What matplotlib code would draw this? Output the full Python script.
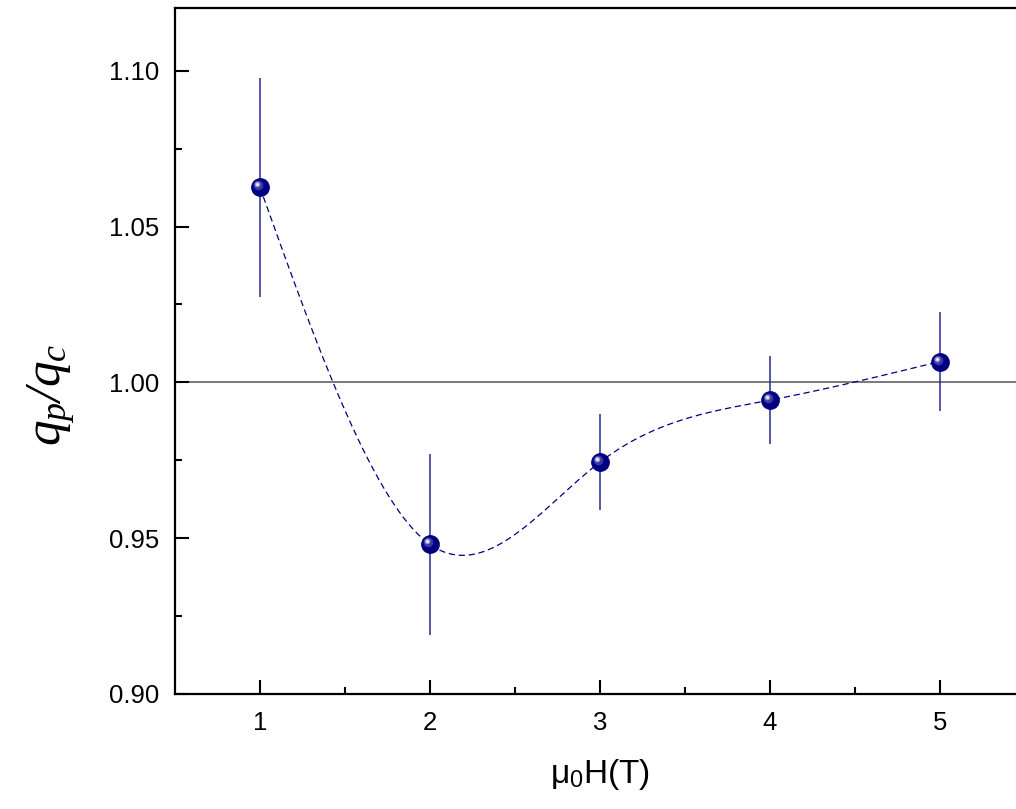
import numpy as np
import matplotlib
matplotlib.use("Agg")
import matplotlib.pyplot as plt
from matplotlib.transforms import offset_copy

# ----------------------------------------------------------------------
# data
# ----------------------------------------------------------------------
field = [1, 2, 3, 4, 5]                                   # mu0 H (T)
ratio = [1.0626, 0.9480, 0.9744, 0.9943, 1.0067]          # q_p / q_c
ratio_err = [0.0352, 0.0290, 0.0154, 0.0141, 0.0160]
x_ticks = [1, 2, 3, 4, 5]
y_ticks = [0.90, 0.95, 1.00, 1.05, 1.10]

plt.rcParams["font.family"] = ["Liberation Sans", "DejaVu Sans"]
plt.rcParams["mathtext.fontset"] = "custom"
plt.rcParams["mathtext.it"] = "Liberation Serif:italic"
plt.rcParams["mathtext.rm"] = "Liberation Serif"

NAVY = "#000080"


def natural_spline(x, y, n=400):
    """Natural cubic spline through the points (like Origin's spline connect)."""
    x = np.asarray(x, float)
    y = np.asarray(y, float)
    h = np.diff(x)
    m = len(x)
    A = np.zeros((m, m))
    b = np.zeros(m)
    A[0, 0] = A[-1, -1] = 1.0
    for i in range(1, m - 1):
        A[i, i - 1] = h[i - 1]
        A[i, i] = 2 * (h[i - 1] + h[i])
        A[i, i + 1] = h[i]
        b[i] = 6 * ((y[i + 1] - y[i]) / h[i] - (y[i] - y[i - 1]) / h[i - 1])
    M = np.linalg.solve(A, b)
    xs = np.linspace(x[0], x[-1], n)
    idx = np.clip(np.searchsorted(x, xs) - 1, 0, m - 2)
    x0, x1 = x[idx], x[idx + 1]
    hh = x1 - x0
    t0 = x1 - xs
    t1 = xs - x0
    ys = (M[idx] * t0**3 / (6 * hh) + M[idx + 1] * t1**3 / (6 * hh)
          + (y[idx] / hh - M[idx] * hh / 6) * t0
          + (y[idx + 1] / hh - M[idx + 1] * hh / 6) * t1)
    return xs, ys


fig = plt.figure(figsize=(10.16, 8.09), dpi=100)
ax = fig.add_axes([0.1722, 0.1422, 0.8366, 0.8473])

ax.axhline(1.0, color="#555555", lw=1.1, zorder=1)

xs, ys = natural_spline(field, ratio)
ax.plot(xs, ys, color=NAVY, lw=0.9, dashes=(5.0, 3.0), zorder=2)

ax.errorbar(field, ratio, yerr=ratio_err, fmt="none", ecolor="#2a2a95",
            elinewidth=1.1, capsize=0, zorder=3)

# sphere-like markers: dark ball plus an offset highlight
ax.plot(field, ratio, "o", ms=12.5, color=NAVY, mec=NAVY, zorder=4)
hl = offset_copy(ax.transData, fig=fig, x=-2.0, y=2.0, units="dots")
ax.plot(field, ratio, "o", ms=7, color="#3838a8", mew=0, transform=hl, zorder=5)
hl2 = offset_copy(ax.transData, fig=fig, x=-3.0, y=3.0, units="dots")
ax.plot(field, ratio, "o", ms=4, color="#9a9ad0", mew=0, transform=hl2, zorder=6)
ax.plot(field, ratio, "o", ms=2, color="#f0f0ff", mew=0, transform=hl2, zorder=7)

ax.set_xlim(0.5, 5.5)
ax.set_ylim(0.90, 1.12)
ax.set_xticks(x_ticks)
ax.set_xticklabels([str(v) for v in x_ticks])
ax.set_xticks([1.5, 2.5, 3.5, 4.5, 5.5], minor=True)
ax.set_yticks(y_ticks)
ax.set_yticklabels([f"{v:.2f}" for v in y_ticks])
ax.set_yticks([0.925, 0.975, 1.025, 1.075], minor=True)

ax.tick_params(which="both", direction="in", width=1.5, top=False, right=False)
ax.tick_params(which="major", length=10, labelsize=18.5)
ax.tick_params(axis="y", which="major", pad=11)
ax.tick_params(axis="x", which="major", pad=12)
ax.tick_params(which="minor", length=5)
for side in ("left", "bottom", "top", "right"):
    ax.spines[side].set_linewidth(1.6)

ax.set_xlabel("μ$_\\mathregular{0}$H(T)", fontsize=24, labelpad=16)
ax.set_ylabel(r"$q_p$/$q_c$", fontsize=37, va="center",
              family="Liberation Serif", style="italic")
ax.yaxis.set_label_coords(-0.145, 0.436)

fig.savefig("out.png", dpi=100)
